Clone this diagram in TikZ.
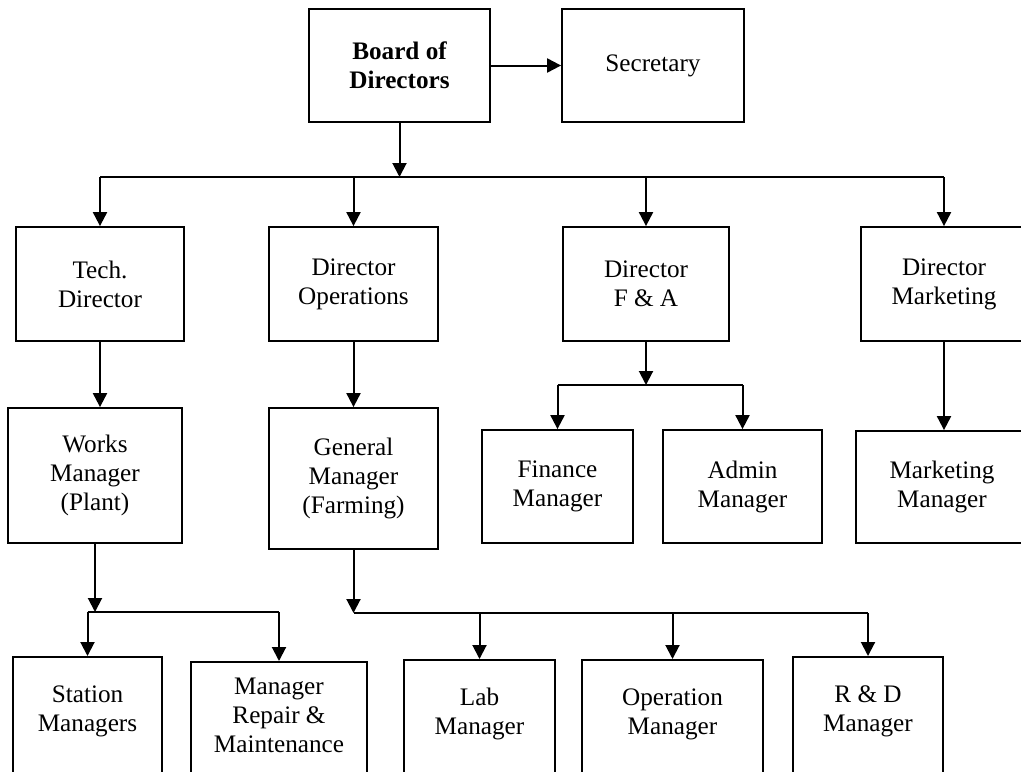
\documentclass[tikz,border=0pt]{standalone}
\usepackage{fontspec}
\setmainfont{Liberation Serif}
\usetikzlibrary{arrows.meta}
\begin{document}
\begin{tikzpicture}[x=0.5pt,y=-0.5pt,
  box/.style={draw, line width=0.9pt, inner sep=0pt, align=center,
    font=\fontsize{12.6}{14.5}\selectfont},
  txt/.style={inner sep=0pt, align=center, font=\fontsize{12.6}{14.5}\selectfont},
  conn/.style={line width=1pt},
  arr/.style={line width=1pt, -{Triangle[length=7pt,width=7pt]}}]
\useasboundingbox (0,0) rectangle (1021,771);
\clip (0,0) rectangle (1021,771);
% top
\node[box, minimum width=90.5pt, minimum height=56.5pt] (board) at (399.5,65.5) {\bfseries Board of\\\bfseries Directors};
\node[box, minimum width=91pt, minimum height=56.5pt] (sec) at (653,65.5) {Secretary};
% directors
\node[box, minimum width=84pt, minimum height=57pt] (tech) at (100,284) {Tech.\\Director};
\node[box, minimum width=84.5pt, minimum height=57pt] (ops) at (353.5,284) {Director\\Operations};
\node[box, minimum width=83pt, minimum height=57pt] (fa) at (646,284) {Director\\F \& A};
\node[box, minimum width=83pt, minimum height=57pt] (mkt) at (944,284) {Director\\Marketing};
% managers
\node[box, minimum width=87pt, minimum height=67.5pt] (works) at (95,475.5) {Works\\Manager\\(Plant)};
\node[box, minimum width=84.5pt, minimum height=70.5pt] (gm) at (353.5,478.5) {General\\Manager\\(Farming)};
\node[box, minimum width=75.5pt, minimum height=56.5pt] (fin) at (557.5,486.5) {Finance\\Manager};
\node[box, minimum width=79.5pt, minimum height=56.5pt] (adm) at (742.5,486.5) {Admin\\Manager};
\node[box, minimum width=86pt, minimum height=56pt] (mm) at (942,487) {Marketing\\Manager};
% bottom row
\node[box, minimum width=74.5pt, minimum height=75pt, anchor=north] (st) at (87.5,656) {};
\node[box, minimum width=88pt, minimum height=75pt, anchor=north] (rep) at (279,661) {};
\node[box, minimum width=75.5pt, minimum height=75pt, anchor=north] (lab) at (479.5,659) {};
\node[box, minimum width=90.5pt, minimum height=75pt, anchor=north] (opm) at (672.5,659) {};
\node[box, minimum width=75pt, minimum height=75pt, anchor=north] (rd) at (868,656) {};
\node[txt] (stt) at (87.5,711) {Station\\Managers};
\node[txt] (rept) at (279,715) {Manager\\Repair \&\\Maintenance};
\node[txt] (labt) at (479.5,714) {Lab\\Manager};
\node[txt] (opmt) at (672.5,714) {Operation\\Manager};
\node[txt] (rdt) at (868,711) {R \& D\\Manager};
% bus coordinates
\coordinate (b1) at (0,177);
\coordinate (b2) at (0,612);
\coordinate (b3) at (0,613);
\coordinate (b4) at (0,385);
% connectors
\draw[arr] (board) -- (sec);
\draw[arr] (board.south) -- (board.south |- b1);
\draw[conn] (tech.north |- b1) -- (mkt.north |- b1);
\foreach \n in {tech,ops,fa,mkt} \draw[arr] (\n.north |- b1) -- (\n.north);
\draw[arr] (tech.south) -- (tech.south |- works.north);
\draw[arr] (ops.south) -- (ops.south |- gm.north);
\draw[arr] (mkt.south) -- (mkt.south |- mm.north);
% F&A branch
\draw[arr] (fa.south) -- (fa.south |- b4);
\draw[conn] (fin.north |- b4) -- (adm.north |- b4);
\foreach \n in {fin,adm} \draw[arr] (\n.north |- b4) -- (\n.north);
% works branch
\draw[arr] (works.south) -- (works.south |- b2);
\draw[conn] (st.north |- b2) -- (rep.north |- b2);
\foreach \n in {st,rep} \draw[arr] (\n.north |- b2) -- (\n.north);
% GM branch
\draw[arr] (gm.south) -- (gm.south |- b3);
\draw[conn] (gm.south |- b3) -- (rd.north |- b3);
\foreach \n in {lab,opm,rd} \draw[arr] (\n.north |- b3) -- (\n.north);
\end{tikzpicture}
\end{document}
